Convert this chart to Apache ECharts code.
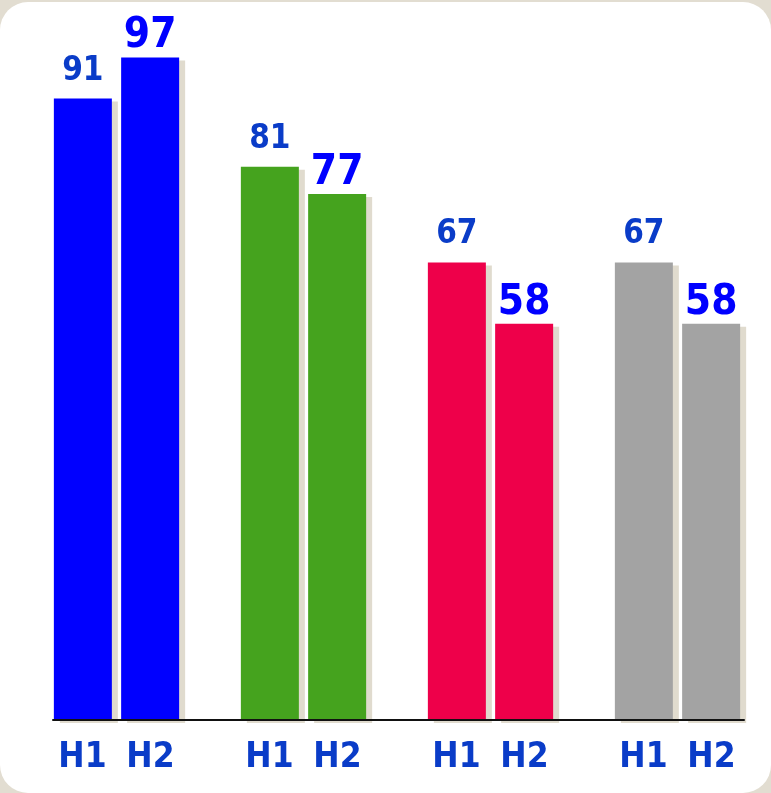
<!DOCTYPE html>
<html lang="en">
<head>
  <meta charset="UTF-8">
  <title>H1 / H2</title>
  <style>
    html, body { margin: 0; padding: 0; background: #e2ddd1; }
    .card {
      position: absolute; left: 0; top: 2px; width: 771px; height: 791px;
      background: #fff; border-radius: 28px;
    }
    #main { position: absolute; left: 0; top: 0; width: 771px; height: 793px; }
  </style>
</head>
<body>
<div class="card"></div>
<div id="main"></div>
<script src="https://cdn.jsdelivr.net/npm/echarts@6/dist/echarts.min.js"></script>
<script>
// data
var groups = ['G1', 'G2', 'G3', 'G4'];
var halves = ['H1', 'H2'];
var h1Values = [91, 81, 67, 67];
var h2Values = [97, 77, 58, 58];
var groupColors = ['#0000ff', '#45a31e', '#ee004a', '#a3a3a3'];

var fontCond = "'DejaVu Sans Condensed', 'DejaVu Sans', sans-serif";

function barItems(vals) {
  var out = [];
  for (var i = 0; i < vals.length; i++) {
    out.push({ value: vals[i], itemStyle: { color: groupColors[i] } });
  }
  return out;
}

var barStyle = {
  shadowColor: '#e0dbce',
  shadowBlur: 0,
  shadowOffsetX: 6,
  shadowOffsetY: 3
};

var myChart = echarts.init(document.getElementById('main'));
var option = {
  animation: false,
  grid: [
    { left: 23, right: 0, top: 37, bottom: 73 },
    { left: 53, right: 27, top: 37, bottom: 73 }   // only carries the base line
  ],
  xAxis: [
    {
      type: 'category',
      data: groups,
      gridIndex: 0,
      axisLine: { show: false },
      axisTick: { show: false },
      axisLabel: {
        margin: 20,
        formatter: function () {
          return '{a|' + halves[0] + '}{a|' + halves[1] + '}';
        },
        rich: {
          a: {
            width: 68, align: 'center',
            fontFamily: fontCond, fontWeight: 'bold', fontSize: 35,
            color: '#0a3cc8'
          }
        }
      }
    },
    {
      type: 'category',
      data: [''],
      gridIndex: 1,
      z: 10,
      axisLine: { show: true, lineStyle: { color: '#111', width: 2 } },
      axisTick: { show: false },
      axisLabel: { show: false }
    }
  ],
  yAxis: [
    { type: 'value', gridIndex: 0, min: 0, max: 100, show: false },
    { type: 'value', gridIndex: 1, min: 0, max: 100, show: false }
  ],
  series: [
    {
      name: halves[0],
      type: 'bar',
      barWidth: 58,
      barGap: '16%',
      itemStyle: barStyle,
      label: {
        show: true, position: 'top', distance: 11,
        fontFamily: fontCond, fontWeight: 'bold', fontSize: 33,
        color: '#0a3cc8'
      },
      data: barItems(h1Values)
    },
    {
      name: halves[1],
      type: 'bar',
      barWidth: 58,
      itemStyle: barStyle,
      label: {
        show: true, position: 'top', distance: 0,
        fontFamily: fontCond, fontWeight: 'bold', fontSize: 42,
        color: '#0000ff'
      },
      data: barItems(h2Values)
    }
  ]
};
myChart.setOption(option);
</script>
</body>
</html>
